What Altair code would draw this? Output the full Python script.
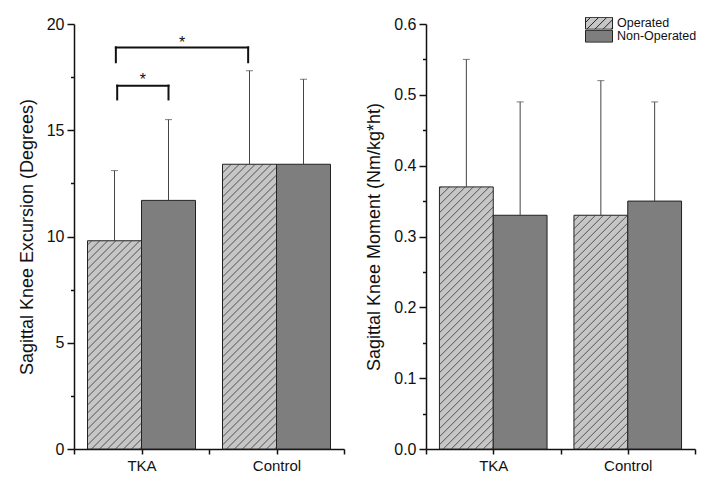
import altair as alt
import pandas as pd

# ---------------- data ----------------
categories = ["TKA", "Control"]
groups = ["Operated", "Non-Operated"]
# order: TKA-Operated, TKA-Non, Control-Operated, Control-Non
excursion_mean = [9.8, 11.7, 13.4, 13.4]
excursion_sd = [3.3, 3.8, 4.4, 4.0]
moment_mean = [0.37, 0.33, 0.33, 0.35]
moment_sd = [0.18, 0.16, 0.19, 0.14]
# significance brackets on excursion: (left x, right x, top y, end y, star y)
sig_left = [0.82, 0.81]
sig_right = [1.2, 1.79]
sig_top = [17.1, 18.9]
sig_end = [16.45, 18.2]
sig_star = [17.55, 19.3]

FONT = "Liberation Sans"
PW1, PW2, PH = 270, 269, 425
FILLS = ["#c6c6c6", "#7e7e7e"]


def sq_path():
    return "M-1,-0.44L1,-0.44L1,0.44L-1,0.44Z"


def hatch_path():
    p = sq_path()
    h = 0.44
    for a in [-1.5, -0.9, -0.3, 0.3, 0.9]:
        x_start = max(a, -1)
        x_end = min(a + 2 * h, 1)
        if x_end - x_start <= 0.02:
            continue
        y_start = h - (x_start - a)
        y_end = h - (x_end - a)
        p += f"M{x_start:.3f},{y_start:.3f}L{x_end:.3f},{y_end:.3f}"
    return p


def bar_df(means, sds):
    rows = []
    for i, c in enumerate(categories):
        for j, g in enumerate(groups):
            k = i * 2 + j
            center = i + 1 + (-0.2 if j == 0 else 0.2)
            rows.append(dict(cat=c, group=g, x0=center - 0.2, x1=center + 0.2,
                             xc=center, mean=means[k], top=means[k] + sds[k],
                             half=means[k] / 2, zero=0.0))
    return pd.DataFrame(rows)


def hatch_df(df, xs, ys, spacing=8.0):
    rows = []
    for _, r in df[df["group"] == "Operated"].iterrows():
        x0, x1, m = r["x0"], r["x1"], r["mean"]
        w = (x1 - x0) * xs
        h = m * ys
        c = -w + 2
        while c < h:
            xa = max(0.0, -c)
            xb = min(w, h - c)
            if xb - xa > 0.5:
                rows.append(dict(hx=x0 + xa / xs, hy=(xa + c) / ys,
                                 hx2=x0 + xb / xs, hy2=(xb + c) / ys))
            c += spacing
    return pd.DataFrame(rows)


def panel(means, sds, ymax, step, minor_test, fmt, ytitle, pw, show_legend, brackets):
    df = bar_df(means, sds)
    xs = pw / 2.0
    ys = PH / ymax
    hd = hatch_df(df, xs, ys)
    nt = int(round(ymax / step))
    yvals = [round(i * step, 4) for i in range(nt + 1)]
    xscale = alt.Scale(domain=[0.5, 2.5], nice=False, zero=False)
    yscale = alt.Scale(domain=[0, ymax], nice=False)
    xaxis = alt.Axis(values=[0.5, 1, 1.5, 2, 2.5], grid=False,
                     labelExpr="datum.value == 1 ? 'TKA' : (datum.value == 2 ? 'Control' : '')",
                     tickSize=5, labelFontSize=15, labelPadding=4, title=None)
    yaxis = alt.Axis(values=yvals, format=fmt, grid=False,
                     labelExpr=f"({minor_test}) ? '' : datum.label",
                     tickSize={"condition": {"test": minor_test, "value": 3.5}, "value": 7},
                     labelFontSize=16, labelPadding=3, title=ytitle,
                     titleFontSize=18, titlePadding=10, titleFontWeight="normal")
    X = lambda f: alt.X(f, scale=xscale, axis=xaxis, title=None)
    Y = lambda f: alt.Y(f, scale=yscale, axis=yaxis, title=ytitle)

    fill_scale = alt.Scale(domain=groups, range=FILLS)
    if show_legend:
        leg = alt.Legend(title=None, orient="none", legendX=159, legendY=-7,
                         labelFontSize=12.5, labelFont=FONT, labelColor="#111",
                         symbolSize=729, clipHeight=12.5, rowPadding=0, labelOffset=4,
                         symbolStrokeWidth=1)
    else:
        leg = None

    pts = alt.Chart(df).mark_point(filled=True, size=729, opacity=1, strokeWidth=1).encode(
        x=X("xc:Q"), y=Y("half:Q"),
        fill=alt.Fill("group:N", scale=fill_scale, legend=leg),
        stroke=alt.Stroke("group:N", scale=alt.Scale(domain=groups, range=["#222", "#222"]),
                          legend=leg),
        shape=alt.Shape("group:N", scale=alt.Scale(domain=groups, range=[hatch_path(), sq_path()]),
                        legend=leg),
    )
    bars = alt.Chart(df).mark_bar(stroke="#222", strokeWidth=1).encode(
        x=X("x0:Q"), x2="x1:Q", y=Y("mean:Q"), y2="zero:Q",
        fill=alt.Fill("group:N", scale=fill_scale, legend=leg),
    )
    hatch = alt.Chart(hd).mark_rule(color="#333", strokeWidth=0.8).encode(
        x=X("hx:Q"), x2="hx2:Q", y=Y("hy:Q"), y2="hy2:Q")
    err = alt.Chart(df).mark_rule(color="#444", strokeWidth=1).encode(
        x=X("xc:Q"), y=Y("mean:Q"), y2="top:Q")
    cap = alt.Chart(df).mark_tick(orient="horizontal", size=7, thickness=1, color="#444").encode(
        x=X("xc:Q"), y=Y("top:Q"))
    layers = [pts, bars, hatch, err, cap]
    if brackets:
        segs, stars = [], []
        for xa, xb, yt, ye, st in zip(sig_left, sig_right, sig_top, sig_end, sig_star):
            segs += [dict(sx=xa, sx2=xa, sy=ye, sy2=yt), dict(sx=xa, sx2=xb, sy=yt, sy2=yt),
                     dict(sx=xb, sx2=xb, sy=ye, sy2=yt)]
            stars.append(dict(tx=(xa + xb) / 2, ty=st, t="*"))
        br = alt.Chart(pd.DataFrame(segs)).mark_rule(color="#111", strokeWidth=2, strokeCap="square").encode(
            x=X("sx:Q"), x2="sx2:Q", y=Y("sy:Q"), y2="sy2:Q")
        tx = alt.Chart(pd.DataFrame(stars)).mark_text(fontSize=16, font=FONT, color="#111",
                                                      baseline="middle", dy=4).encode(
            x=X("tx:Q"), y=Y("ty:Q"), text="t:N")
        layers += [br, tx]
    return alt.layer(*layers).properties(width=pw, height=PH)


left = panel(excursion_mean, excursion_sd, 20, 2.5, "datum.value % 5 != 0", "d",
             "Sagittal Knee Excursion (Degrees)", PW1, False, True)
right = panel(moment_mean, moment_sd, 0.6, 0.05, "round(datum.value * 100) % 10 != 0", ".1f",
              "Sagittal Knee Moment (Nm/kg*ht)", PW2, True, False)

chart = alt.hconcat(left, right, spacing=20).resolve_scale(
    fill="independent", shape="independent", stroke="independent").properties(
    padding={"left": 10, "top": 8, "right": 2, "bottom": 2}, background="white"
).configure_view(stroke=None).configure_axis(
    grid=False, domainColor="#111", domainWidth=1.5, tickColor="#111", tickWidth=1.5,
    labelColor="#111", titleColor="#111", labelFont=FONT, titleFont=FONT,
    titleFontWeight="normal"
)

chart.save("out.html", embed_options={"renderer": "svg", "actions": False})
